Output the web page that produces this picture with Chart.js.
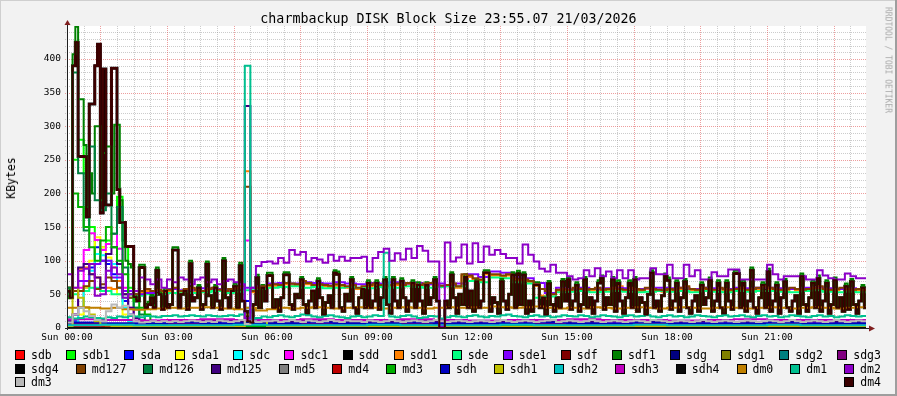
<!DOCTYPE html>
<html>
<head>
<meta charset="utf-8">
<title>charmbackup DISK Block Size</title>
<script src="https://cdn.jsdelivr.net/npm/chart.js"></script>
<style>
    body {
        margin: 0;
        padding: 0;
        background: #f2f2f2;
    }

    #wrap {
        position: relative;
        width: 897px;
        height: 396px;
        overflow: hidden;
        font-family: "DejaVu Sans Mono", monospace;
        color: #000;
    }

    #chart {
        position: absolute;
        left: 0;
        top: 0;
    }

    #title {
        position: absolute;
        left: 0;
        top: 11px;
        width: 897px;
        text-align: center;
        font-size: 13.3px;
        line-height: 16px;
    }

    #ylabel {
        position: absolute;
        left: 11px;
        top: 178px;
        transform: translate(-50%, -50%) rotate(-90deg);
        font-size: 11.5px;
        white-space: nowrap;
    }

    #mark {
        position: absolute;
        left: 888px;
        top: 60px;
        transform: translate(-50%, -50%) rotate(90deg);
        font-size: 8px;
        color: #aaaaaa;
        white-space: nowrap;
    }

    #legend {
        position: absolute;
        left: 15px;
        top: 348px;
        width: 866px;
        font-size: 11.5px;
    }

    .row {
        display: flex;
        justify-content: space-between;
        align-items: center;
        height: 13.7px;
    }

    .item {
        display: flex;
        align-items: center;
        white-space: nowrap;
    }

    .box {
        width: 8px;
        height: 8px;
        border: 1px solid #000;
        margin-right: 6px;
    }
</style>
</head>
<body>
<div id="wrap">
    <canvas id="chart" width="897" height="396"></canvas>
    <div id="title">charmbackup DISK Block Size 23:55.07 21/03/2026</div>
    <div id="ylabel">KBytes</div>
    <div id="mark">RRDTOOL / TOBI OETIKER</div>
    <div id="legend"></div>
</div>

<script>
    // series in rrdtool drawing order (first = bottom, last = top)
    const names = ['sdb', 'sdb1', 'sda', 'sda1', 'sdc', 'sdc1', 'sdd', 'sdd1', 'sde', 'sde1', 'sdf', 'sdf1',
        'sdg', 'sdg1', 'sdg2', 'sdg3', 'sdg4', 'md127', 'md126', 'md125', 'md5', 'md4', 'md3',
        'sdh', 'sdh1', 'sdh2', 'sdh3', 'sdh4', 'dm0', 'dm1', 'dm2', 'dm3', 'dm4'];
    const colors = ['#ff0000', '#00ff00', '#0000ff', '#ffff00', '#00ffff', '#ff00ff', '#000000', '#ff8000',
        '#00ff80', '#8000ff', '#800000', '#008000', '#000080', '#808000', '#008080', '#800080', '#000000',
        '#804000', '#008040', '#400080', '#808080', '#c00000', '#00b000', '#0000c0', '#c0c000', '#00c0c0',
        '#c000c0', '#0a0a0a', '#c08000', '#00c090', '#8c00c8', '#b8b8b8', '#3a0000'];
    const legendRows = [16, 15, 2];

    const X_MAX = 1438; // minutes after Sun 00:00
    const Y_MAX = 449;
    const xTicks = [0, 180, 360, 540, 720, 900, 1080, 1260];
    const xTickLabels = ['Sun 00:00', 'Sun 03:00', 'Sun 06:00', 'Sun 09:00', 'Sun 12:00', 'Sun 15:00', 'Sun 18:00', 'Sun 21:00'];
    const yTicks = [0, 50, 100, 150, 200, 250, 300, 350, 400];

    // sample times (minutes); each value covers the interval that ends at its time
    function timeGrid(step, n) {
        const t = [];
        for (let i = 0; i < n; i++) t.push(i * step);
        return t;
    }
    const t5 = timeGrid(5, 289);
    const t10 = timeGrid(10, 145);
    const t20 = timeGrid(20, 73);
    const t60 = timeGrid(60, 25);
    const tMix = [0, 10, 20, 30, 40, 50, 60, 70, 80, 90, 100, 110, 120, 130, 140, 150, 160, 170, 180,
        240, 300, 320, 330, 360, 420, 480, 540, 600, 660, 720, 780, 840, 900, 960, 1020, 1080, 1140,
        1200, 1260, 1320, 1380, 1440];

    // 5 minute data - dm4 (sdd and sdf carry the same traffic)
    const dm4Vals = [55,
        55, 45, 390, 425, 255, 255, 255, 165, 333, 333, 390, 422, 171, 385, 183, 183, 386, 386, 206, 157, 157, 121, 121, 121, 46, 40, 90, 90, 30, 35, 45, 30, 86, 50, 28, 55,
        30, 35, 116, 116, 30, 50, 55, 28, 96, 40, 45, 60, 28, 35, 95, 48, 30, 60, 40, 28, 100, 45, 30, 55, 62, 30, 93, 40, 25, 10, 8, 35, 75, 30, 60, 40,
        78, 78, 30, 42, 25, 45, 79, 79, 35, 28, 50, 45, 72, 35, 22, 40, 55, 30, 70, 45, 20, 38, 48, 30, 82, 80, 30, 25, 50, 40, 72, 30, 22, 45, 58, 30,
        67, 30, 40, 67, 28, 45, 72, 35, 22, 72, 40, 30, 70, 45, 25, 40, 67, 30, 64, 40, 22, 64, 35, 45, 72, 40, 0, 0, 40, 30, 79, 45, 22, 50, 35, 76,
        30, 55, 25, 69, 30, 40, 82, 82, 25, 45, 38, 22, 69, 40, 28, 50, 79, 30, 81, 35, 79, 22, 40, 25, 64, 64, 30, 45, 20, 66, 35, 25, 45, 30, 69, 40,
        72, 28, 40, 64, 25, 35, 72, 30, 45, 22, 40, 67, 74, 28, 45, 35, 72, 25, 67, 40, 22, 45, 67, 30, 72, 25, 45, 38, 20, 50, 82, 30, 40, 25, 48, 77,
        71, 28, 40, 67, 25, 45, 69, 30, 22, 40, 48, 25, 64, 35, 45, 71, 25, 40, 67, 30, 22, 67, 40, 28, 81, 81, 30, 67, 25, 40, 86, 30, 22, 45, 64, 30,
        84, 25, 40, 64, 22, 45, 69, 30, 25, 40, 48, 22, 77, 35, 25, 45, 67, 30, 74, 25, 40, 67, 22, 35, 71, 30, 45, 25, 62, 28, 69, 35, 22, 40, 60, 30];

    const sdf1Vals = [60,
        60, 50, 407, 448, 340, 340, 272, 180, 230, 200, 300, 300, 190, 260, 270, 270, 200, 302, 302, 190, 130, 100, 95, 90, 50, 44, 94, 94, 34, 39, 49, 34, 90, 54, 32, 59,
        30, 35, 120, 120, 30, 50, 55, 28, 100, 40, 45, 64, 28, 35, 99, 48, 30, 64, 40, 28, 104, 45, 30, 55, 66, 30, 97, 40, 25, 10, 8, 35, 79, 30, 64, 40,
        82, 82, 30, 42, 25, 45, 83, 83, 35, 28, 50, 45, 76, 35, 22, 40, 55, 30, 74, 45, 20, 38, 48, 30, 86, 84, 30, 25, 50, 40, 76, 30, 22, 45, 58, 30,
        71, 30, 40, 71, 28, 45, 76, 35, 22, 76, 40, 30, 74, 45, 25, 40, 71, 30, 68, 40, 22, 68, 35, 45, 76, 40, 0, 0, 40, 30, 83, 45, 22, 50, 35, 80,
        30, 55, 25, 73, 30, 40, 86, 86, 25, 45, 38, 22, 73, 40, 28, 50, 83, 30, 85, 35, 83, 22, 40, 25, 68, 68, 30, 45, 20, 70, 35, 25, 45, 30, 73, 40,
        76, 28, 40, 68, 25, 35, 76, 30, 45, 22, 40, 71, 78, 28, 45, 35, 76, 25, 71, 40, 22, 45, 71, 30, 76, 25, 45, 38, 20, 50, 86, 30, 40, 25, 48, 81,
        75, 28, 40, 71, 25, 45, 73, 30, 22, 40, 48, 25, 68, 35, 45, 75, 25, 40, 71, 30, 22, 71, 40, 28, 85, 85, 30, 71, 25, 40, 90, 30, 22, 45, 68, 30,
        88, 25, 40, 68, 22, 45, 73, 30, 25, 40, 48, 22, 81, 35, 25, 45, 71, 30, 78, 25, 40, 71, 22, 35, 75, 30, 45, 25, 66, 28, 73, 35, 22, 40, 64, 30];

    // 10 minute data
    const dm2Vals = [80, 80, 60, 85, 88, 95, 48, 50, 85, 90, 80, 45, 50, 55, 75, 72, 65, 72, 60,
        72, 68, 75, 72, 65, 72, 75, 68, 72, 65, 70, 72, 68, 65, 15, 60, 92, 98,
        99, 96, 104, 97, 116, 109, 113, 99, 104, 102, 97, 109, 100, 106, 100, 104, 104, 106,
        84, 104, 113, 118, 100, 111, 102, 118, 104, 122, 115, 99, 99, 2, 127, 99, 105, 124,
        96, 126, 98, 121, 109, 116, 110, 104, 104, 96, 124, 109, 99, 88, 84, 94, 82, 82,
        77, 72, 74, 86, 77, 89, 77, 84, 74, 86, 74, 86, 72, 74, 74, 89, 80, 80,
        94, 74, 74, 94, 77, 86, 72, 72, 83, 77, 77, 87, 87, 72, 72, 72, 72, 72,
        94, 80, 72, 77, 77, 77, 77, 72, 72, 86, 78, 74, 72, 72, 81, 77, 74, 74];

    const md127Vals = [55, 60, 55, 55, 62, 70, 58, 65, 75, 70, 60, 50, 45, 50, 55, 58, 55, 57, 55,
        57, 60, 55, 58, 60, 57, 55, 58, 60, 57, 55, 58, 60, 62, 210, 55, 60, 62,
        64, 65, 64, 67, 66, 65, 70, 67, 64, 65, 64, 63, 65, 64, 62, 64, 60, 62,
        64, 66, 64, 62, 64, 66, 64, 67, 65, 64, 66, 67, 64, 63, 64, 66, 62, 80,
        78, 74, 72, 82, 80, 80, 78, 80, 74, 72, 72, 70, 65, 58, 55, 50, 57, 58,
        57, 60, 58, 57, 58, 60, 57, 58, 60, 58, 57, 60, 58, 57, 60, 58, 57, 56,
        58, 57, 60, 62, 58, 57, 60, 58, 57, 60, 58, 57, 58, 60, 57, 58, 60, 62,
        60, 58, 57, 58, 60, 58, 57, 58, 60, 62, 58, 57, 58, 60, 58, 57, 58, 57];

    const sdd1Vals = [62, 60, 55, 88, 90, 80, 75, 55, 60, 58, 70, 55, 45, 48, 52, 55, 53, 55, 53,
        55, 58, 53, 56, 58, 55, 53, 56, 58, 55, 53, 56, 58, 60, 233, 53, 58, 60,
        62, 63, 62, 65, 64, 63, 68, 65, 62, 63, 62, 61, 63, 62, 60, 62, 58, 60,
        62, 64, 62, 60, 62, 64, 62, 65, 63, 62, 64, 65, 62, 61, 62, 64, 60, 78,
        76, 72, 70, 80, 78, 78, 76, 78, 72, 70, 70, 68, 63, 48, 43, 50, 55, 56,
        55, 58, 56, 55, 56, 58, 55, 56, 58, 62, 55, 58, 56, 55, 58, 56, 55, 54,
        56, 55, 58, 60, 56, 55, 58, 56, 55, 58, 56, 55, 56, 58, 55, 56, 58, 60,
        58, 56, 55, 56, 58, 56, 55, 56, 58, 60, 56, 55, 56, 58, 56, 55, 56, 55];

    const dm1Vals = [15, 16, 14, 15, 17, 16, 15, 14, 16, 15, 17, 16, 18, 17, 16, 18, 17, 16, 18,
        18, 19, 17, 18, 19, 18, 17, 19, 18, 17, 18, 19, 18, 20, 390, 14, 15, 17,
        16, 18, 19, 17, 16, 18, 20, 19, 17, 16, 18, 19, 17, 16, 15, 17, 18, 16,
        17, 19, 18, 112, 17, 16, 18, 19, 17, 15, 16, 18, 17, 14, 16, 18, 17, 16,
        18, 19, 17, 16, 18, 17, 19, 20, 18, 17, 16, 18, 19, 17, 18, 16, 17, 19,
        18, 17, 19, 18, 16, 17, 19, 18, 17, 16, 18, 19, 17, 18, 19, 17, 16, 18,
        19, 17, 18, 16, 17, 19, 18, 17, 16, 18, 19, 17, 18, 19, 17, 16, 18, 19,
        17, 18, 16, 17, 19, 18, 17, 16, 18, 19, 17, 18, 16, 17, 19, 18, 17, 18];

    const dm3Vals = [5, 8, 20, 30, 25, 18, 12, 10, 25, 35, 30, 33, 20, 10, 8, 9, 10, 9, 10,
        9, 10, 9, 10, 11, 10, 9, 10, 9, 11, 10, 9, 10, 12, 6, 10, 9, 10,
        10, 11, 9, 10, 12, 10, 9, 11, 10, 9, 10, 12, 10, 9, 11, 10, 10, 9,
        11, 10, 9, 10, 12, 10, 9, 10, 11, 10, 9, 10, 12, 10, 9, 10, 11, 10,
        9, 10, 11, 10, 9, 10, 12, 10, 9, 10, 11, 10, 9, 10, 11, 12, 9, 10,
        11, 10, 9, 10, 12, 10, 9, 10, 11, 10, 9, 10, 11, 10, 9, 12, 11, 10,
        9, 10, 11, 10, 9, 10, 12, 10, 9, 10, 11, 10, 9, 10, 11, 10, 9, 10,
        11, 10, 9, 10, 12, 10, 9, 10, 11, 10, 9, 10, 12, 10, 9, 10, 11, 10];

    // 20 minute data
    const sdeVals = [50, 50, 55, 60, 55, 50, 45, 48, 50, 50,
        52, 54, 52, 53, 55, 52, 54, 56, 58,
        60, 61, 62, 60, 61, 59, 60, 61, 60, 59, 61, 60, 62, 61, 60, 61, 62, 62,
        70, 68, 75, 74, 68, 66, 45, 47, 53,
        54, 55, 53, 54, 55, 54, 53, 54, 55,
        54, 55, 53, 55, 54, 53, 55, 54, 55,
        55, 54, 53, 55, 56, 54, 53, 54, 53];

    const sde1Vals = [60, 55, 70, 95, 100, 75, 55, 50, 52, 55,
        58, 56, 57, 59, 58, 57, 59, 60, 62,
        66, 67, 66, 68, 67, 66, 68, 66, 65, 67, 66, 68, 66, 67, 65, 66, 64, 66,
        80, 76, 84, 82, 76, 74, 67, 52, 60,
        58, 60, 58, 59, 60, 59, 58, 59, 60,
        59, 60, 58, 60, 59, 58, 60, 59, 60,
        60, 59, 58, 60, 61, 59, 58, 59, 58];

    const dm0Vals = [30, 30, 31, 30, 29, 30, 28, 27, 28, 29,
        30, 29, 30, 31, 30, 29, 28, 30, 26,
        28, 30, 29, 30, 31, 30, 29, 30, 31, 30, 29, 30, 31, 30, 29, 30, 31, 30,
        31, 30, 32, 31, 30, 31, 32, 30, 29,
        30, 29, 31, 30, 29, 30, 31, 30, 29,
        30, 31, 30, 29, 30, 31, 30, 29, 30,
        31, 30, 29, 30, 31, 30, 29, 30, 31];

    // busy first hours at 10 minutes, then hourly
    const sdb1Vals = [60, 55, 250, 280, 230, 150, 110, 120, 130, 140, 195, 120, 60, 30, 10, 5, 4, 3, 3,
        3, 3, 3, 3, 3, 3, 3, 3, 3, 3, 3, 3, 3, 3, 3, 3, 3, 3, 3, 3, 3, 3, 3];
    const sdaVals = [7, 8, 10, 30, 60, 90, 120, 100, 95, 80, 60, 40, 20, 10, 8, 7, 8, 7, 8,
        7, 8, 7, 40, 7, 8, 7, 8, 7, 8, 7, 7, 8, 7, 8, 7, 8, 7, 7, 8, 7, 8, 7];
    const sda1Vals = [3, 4, 5, 20, 60, 100, 135, 120, 105, 90, 50, 20, 8, 5, 4, 3, 4, 3, 4,
        3, 4, 3, 20, 3, 3, 4, 3, 3, 4, 3, 3, 3, 4, 3, 3, 4, 3, 3, 3, 4, 3, 3];
    const sdcVals = [5, 6, 8, 30, 70, 85, 110, 108, 100, 95, 60, 30, 10, 6, 5, 5, 6, 5, 5,
        5, 6, 5, 30, 5, 5, 6, 5, 5, 6, 5, 5, 5, 6, 5, 5, 6, 5, 5, 5, 6, 5, 5];
    const sdc1Vals = [10, 12, 20, 60, 116, 141, 131, 116, 125, 140, 118, 60, 30, 15, 12, 10, 11, 10, 12,
        10, 11, 10, 130, 10, 9, 10, 9, 10, 9, 10, 9, 10, 9, 10, 9, 10, 9, 10, 9, 10, 9, 10];
    const md125Vals = [8, 10, 20, 90, 95, 80, 75, 60, 110, 120, 95, 50, 30, 15, 10, 9, 10, 9, 10,
        9, 10, 9, 330, 9, 9, 10, 9, 9, 10, 9, 9, 10, 9, 9, 10, 9, 9, 10, 9, 9, 10, 9];
    const md126Vals = [70, 60, 380, 230, 145, 270, 190, 175, 200, 140, 180, 90, 50, 30, 20, 10, 5, 4, 3,
        3, 3, 3, 3, 3, 3, 3, 3, 3, 3, 3, 3, 3, 3, 3, 3, 3, 3, 3, 3, 3, 3, 3];
    const md3Vals = [50, 45, 200, 180, 150, 120, 100, 130, 150, 120, 100, 80, 50, 40, 30, 20, 10, 5, 3,
        3, 3, 3, 3, 3, 3, 3, 3, 3, 3, 3, 3, 3, 3, 3, 3, 3, 3, 3, 3, 3, 3, 3];
    const sdh1Vals = [2, 3, 60, 45, 30, 20, 10, 5, 4, 3, 3, 2, 3, 2, 3, 2, 2, 3, 2,
        2, 3, 2, 20, 10, 2, 3, 2, 2, 3, 2, 2, 2, 3, 2, 2, 3, 2, 2, 2, 3, 2, 2];

    // hourly, quiet devices
    const sdbVals = [2, 1, 2, 1, 1, 2, 1, 1, 2, 1, 1, 2, 1, 1, 1, 2, 1, 1, 2, 1, 1, 1, 2, 1, 1];
    const sdgVals = [4, 4, 5, 4, 4, 4, 5, 4, 4, 4, 5, 4, 4, 4, 5, 4, 4, 4, 5, 4, 4, 4, 5, 4, 4];
    const sdg1Vals = [2, 2, 3, 2, 2, 2, 3, 2, 2, 2, 3, 2, 2, 2, 3, 2, 2, 2, 3, 2, 2, 2, 3, 2, 2];
    const sdg2Vals = [5, 6, 5, 5, 5, 6, 5, 5, 5, 6, 5, 5, 5, 6, 5, 5, 5, 6, 5, 5, 5, 6, 5, 5, 5];
    const sdg3Vals = [6, 7, 6, 6, 7, 6, 6, 6, 7, 6, 6, 7, 6, 6, 6, 7, 6, 6, 7, 6, 6, 6, 7, 6, 6];
    const sdg4Vals = [0, 0, 0, 0, 0, 0, 0, 0, 0, 0, 0, 0, 0, 0, 0, 0, 0, 0, 0, 0, 0, 0, 0, 0, 0];
    const md5Vals = [3, 3, 4, 3, 3, 3, 4, 3, 3, 3, 4, 3, 3, 3, 4, 3, 3, 3, 4, 3, 3, 3, 4, 3, 3];
    const md4Vals = [1, 2, 1, 1, 2, 1, 1, 1, 2, 1, 1, 2, 1, 1, 1, 2, 1, 1, 2, 1, 1, 1, 2, 1, 1];
    const sdhVals = [7, 8, 7, 7, 8, 7, 7, 7, 8, 7, 7, 8, 7, 7, 7, 8, 7, 7, 8, 7, 7, 7, 8, 7, 7];
    const sdh2Vals = [4, 4, 5, 4, 4, 4, 5, 4, 4, 4, 5, 4, 4, 4, 5, 4, 4, 4, 5, 4, 4, 4, 5, 4, 4];
    const sdh3Vals = [12, 13, 12, 11, 12, 13, 12, 12, 13, 12, 12, 13, 12, 11, 12, 12, 13, 12, 12, 11, 12, 13, 12, 12, 12];
    const sdh4Vals = [0, 0, 0, 0, 0, 0, 0, 0, 0, 0, 0, 0, 0, 0, 0, 0, 0, 0, 0, 0, 0, 0, 0, 0, 0];

    const seriesData = {
        sdb: [t60, sdbVals], sdb1: [tMix, sdb1Vals], sda: [tMix, sdaVals], sda1: [tMix, sda1Vals],
        sdc: [tMix, sdcVals], sdc1: [tMix, sdc1Vals], sdd: [t5, dm4Vals], sdd1: [t10, sdd1Vals],
        sde: [t20, sdeVals], sde1: [t20, sde1Vals], sdf: [t5, dm4Vals], sdf1: [t5, sdf1Vals],
        sdg: [t60, sdgVals], sdg1: [t60, sdg1Vals], sdg2: [t60, sdg2Vals], sdg3: [t60, sdg3Vals],
        sdg4: [t60, sdg4Vals], md127: [t10, md127Vals], md126: [tMix, md126Vals], md125: [tMix, md125Vals],
        md5: [t60, md5Vals], md4: [t60, md4Vals], md3: [tMix, md3Vals], sdh: [t60, sdhVals],
        sdh1: [tMix, sdh1Vals], sdh2: [t60, sdh2Vals], sdh3: [t60, sdh3Vals], sdh4: [t60, sdh4Vals],
        dm0: [t20, dm0Vals], dm1: [t10, dm1Vals], dm2: [t10, dm2Vals], dm3: [t10, dm3Vals], dm4: [t5, dm4Vals]
    };

    const datasets = names.map((name, i) => {
        const [times, vals] = seriesData[name];
        return {
            label: name,
            data: vals.map((v, k) => ({ x: times[k], y: v })),
            borderColor: colors[i],
            borderWidth: name === 'sdd' ? 3 : 2,
            stepped: 'after',
            pointRadius: 0,
            fill: false,
            order: names.length - i // last one on top, like rrdtool
        };
    });

    // legend, justified like rrdtool
    const legend = document.getElementById('legend');
    let pos = 0;
    legendRows.forEach(count => {
        const row = document.createElement('div');
        row.className = 'row';
        names.slice(pos, pos + count).forEach((name, k) => {
            const item = document.createElement('div');
            item.className = 'item';
            item.innerHTML = '<span class="box" style="background:' + colors[pos + k] + '"></span>' + name;
            row.appendChild(item);
        });
        legend.appendChild(row);
        pos += count;
    });

    // background, canvas, grid and axes the rrdtool way
    const rrdLook = {
        id: 'rrdLook',
        beforeDraw(chart) {
            const { ctx, chartArea: a, width, height } = chart;
            ctx.save();
            ctx.fillStyle = '#f2f2f2';
            ctx.fillRect(0, 0, width, height);
            ctx.fillStyle = '#cfcfcf';
            ctx.fillRect(0, 0, width, 1);
            ctx.fillRect(0, 0, 1, height);
            ctx.fillStyle = '#9e9e9e';
            ctx.fillRect(0, height - 2, width, 2);
            ctx.fillRect(width - 2, 0, 2, height);
            ctx.fillStyle = '#ffffff';
            ctx.fillRect(a.left, a.top, a.right - a.left, a.bottom - a.top);
            ctx.restore();
        },
        beforeDatasetsDraw(chart) {
            const { ctx, chartArea: a } = chart;
            const xs = chart.scales.x, ys = chart.scales.y;
            ctx.save();
            ctx.lineWidth = 1;
            ctx.setLineDash([1, 1]);
            const hline = v => {
                const p = Math.round(ys.getPixelForValue(v)) + 0.5;
                ctx.beginPath(); ctx.moveTo(a.left - 2, p); ctx.lineTo(a.right, p); ctx.stroke();
            };
            const vline = t => {
                const p = Math.round(xs.getPixelForValue(t)) + 0.5;
                ctx.beginPath(); ctx.moveTo(p, a.top); ctx.lineTo(p, a.bottom + 2); ctx.stroke();
            };
            ctx.strokeStyle = 'rgba(143,143,143,0.45)';
            for (let v = 10; v < Y_MAX; v += 10) if (v % 50) hline(v);
            for (let t = 30; t < X_MAX; t += 30) if ((t - 60) % 120) vline(t);
            ctx.strokeStyle = 'rgba(222,79,79,0.55)';
            for (let v = 50; v < Y_MAX; v += 50) hline(v);
            for (let t = 60; t < X_MAX; t += 120) vline(t);
            ctx.restore();
        },
        afterDatasetsDraw(chart) {
            const { ctx, chartArea: a } = chart;
            const x0 = Math.round(a.left) + 0.5, y0 = Math.round(a.bottom) + 0.5;
            ctx.save();
            ctx.strokeStyle = '#1f1f1f';
            ctx.lineWidth = 1;
            ctx.beginPath();
            ctx.moveTo(a.left - 2, y0); ctx.lineTo(a.right + 3, y0);
            ctx.moveTo(x0, a.bottom + 2); ctx.lineTo(x0, a.top - 1);
            ctx.stroke();
            ctx.fillStyle = '#801f1f';
            ctx.beginPath();
            ctx.moveTo(a.right + 3, y0 - 3); ctx.lineTo(a.right + 9, y0); ctx.lineTo(a.right + 3, y0 + 3);
            ctx.closePath(); ctx.fill();
            ctx.beginPath();
            ctx.moveTo(x0 - 3, a.top - 1); ctx.lineTo(x0, a.top - 6); ctx.lineTo(x0 + 3, a.top - 1);
            ctx.closePath(); ctx.fill();
            ctx.restore();
        }
    };

    const tickFont = { family: 'DejaVu Sans Mono', size: 9.5 };
    const ctx = document.getElementById('chart').getContext('2d');
    new Chart(ctx, {
        type: 'line',
        data: { datasets: datasets },
        options: {
            responsive: false,
            animation: false,
            layout: { padding: { top: 26, right: 31, left: 0, bottom: 0 } },
            plugins: {
                legend: { display: false },
                tooltip: { enabled: false },
                title: { display: false }
            },
            elements: { line: { tension: 0 } },
            scales: {
                x: {
                    type: 'linear',
                    min: 0,
                    max: X_MAX,
                    grid: { display: false, drawTicks: false },
                    border: { display: false },
                    afterBuildTicks: s => { s.ticks = xTicks.map(v => ({ value: v })); },
                    ticks: {
                        autoSkip: false,
                        maxRotation: 0,
                        padding: 4,
                        color: '#000',
                        font: tickFont,
                        callback: (v, i) => xTickLabels[i]
                    },
                    afterFit: s => { s.height = 68; }
                },
                y: {
                    min: 0,
                    max: Y_MAX,
                    grid: { display: false, drawTicks: false },
                    border: { display: false },
                    afterBuildTicks: s => { s.ticks = yTicks.map(v => ({ value: v })); },
                    ticks: {
                        autoSkip: false,
                        padding: 6,
                        color: '#000',
                        font: tickFont,
                        callback: v => String(v)
                    },
                    afterFit: s => { s.width = 67; }
                }
            }
        },
        plugins: [rrdLook]
    });
</script>
</body>
</html>
